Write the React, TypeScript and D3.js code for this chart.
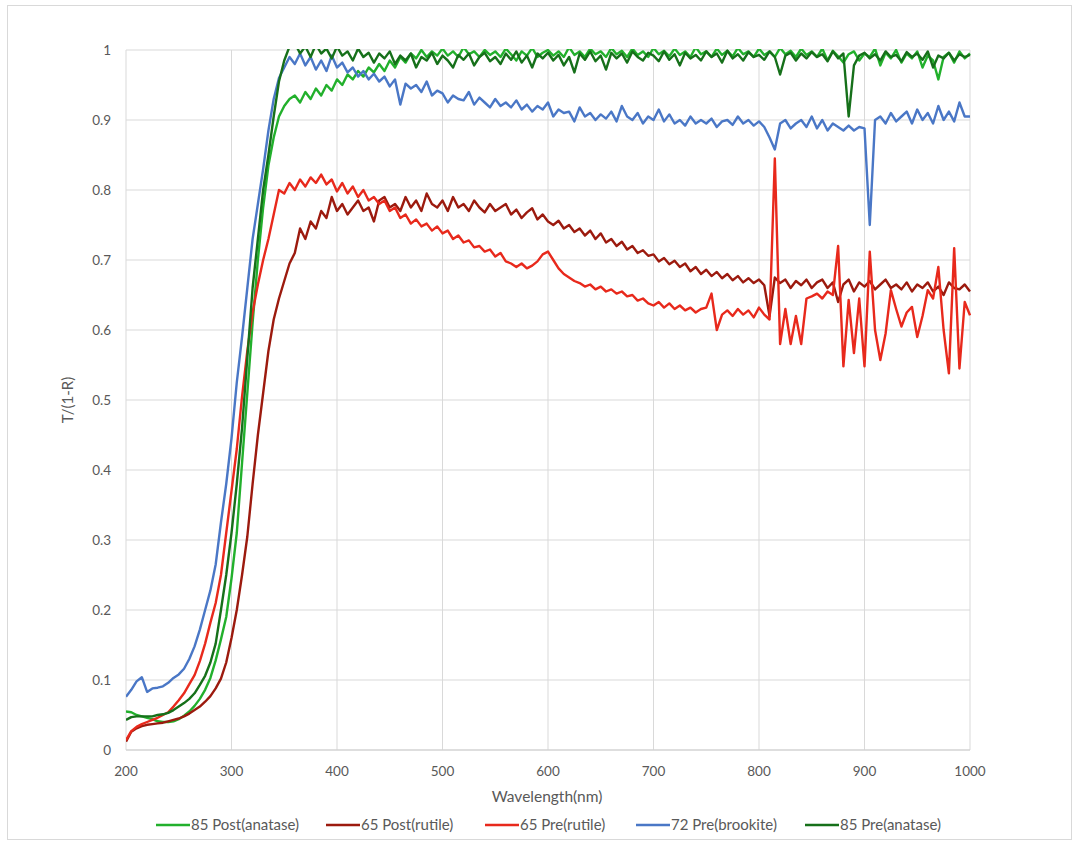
import React from "react";
import * as d3 from "d3";

// Wavelength grid (nm), sampled every 5 nm from 200 to 1000
const wavelengths: number[] = d3.range(200, 1001, 5);

const xTicks = [200, 300, 400, 500, 600, 700, 800, 900, 1000];
const yTicks = [0, 0.1, 0.2, 0.3, 0.4, 0.5, 0.6, 0.7, 0.8, 0.9, 1];

// T/(1-R) per sample, rows of ten (50 nm each)
const post85Anatase: number[] = [
  0.055, 0.054, 0.050, 0.048, 0.046, 0.044, 0.041, 0.040, 0.040, 0.041,
  0.044, 0.049, 0.055, 0.063, 0.073, 0.086, 0.103, 0.128, 0.158, 0.190,
  0.245, 0.310, 0.410, 0.510, 0.610, 0.700, 0.775, 0.835, 0.875, 0.905,
  0.920, 0.930, 0.935, 0.925, 0.940, 0.930, 0.945, 0.935, 0.950, 0.942,
  0.958, 0.950, 0.965, 0.958, 0.970, 0.962, 0.975, 0.968, 0.980, 0.970,
  0.985, 0.975, 0.990, 0.982, 0.995, 0.988, 1.000, 0.990, 0.998, 0.992,
  1.002, 0.992, 0.998, 0.990, 1.004, 0.994, 0.998, 0.990, 1.000, 0.993,
  0.998, 0.990, 1.002, 0.994, 0.985, 0.998, 0.992, 1.003, 0.990, 0.996,
  1.000, 0.992, 0.998, 0.990, 1.004, 0.993, 0.998, 0.990, 1.002, 0.994,
  0.998, 0.990, 1.003, 0.994, 0.999, 0.990, 1.002, 0.993, 0.998, 0.990,
  1.003, 0.994, 0.999, 0.991, 1.002, 0.993, 0.998, 0.990, 1.004, 0.994,
  0.998, 0.990, 1.002, 0.993, 0.999, 0.991, 1.003, 0.994, 0.998, 0.990,
  1.002, 0.993, 0.998, 0.990, 1.003, 0.994, 0.999, 0.990, 1.002, 0.993,
  0.998, 0.990, 1.002, 0.985, 0.999, 0.991, 0.982, 0.994, 0.998, 0.985,
  0.995, 0.990, 1.002, 0.978, 0.996, 0.988, 1.000, 0.982, 0.995, 0.988,
  0.998, 0.975, 0.992, 0.985, 0.958, 0.990, 0.996, 0.982, 0.998, 0.988,
  0.995,
];

const post65Rutile: number[] = [
  0.012, 0.026, 0.031, 0.034, 0.036, 0.037, 0.038, 0.039, 0.041, 0.043,
  0.045, 0.048, 0.052, 0.057, 0.062, 0.069, 0.077, 0.088, 0.102, 0.125,
  0.160, 0.200, 0.250, 0.305, 0.380, 0.450, 0.510, 0.570, 0.615, 0.645,
  0.670, 0.695, 0.710, 0.745, 0.730, 0.755, 0.745, 0.770, 0.760, 0.790,
  0.770, 0.780, 0.765, 0.775, 0.785, 0.770, 0.775, 0.755, 0.785, 0.790,
  0.775, 0.780, 0.770, 0.790, 0.775, 0.785, 0.770, 0.795, 0.780, 0.775,
  0.785, 0.770, 0.790, 0.775, 0.780, 0.770, 0.785, 0.775, 0.768, 0.780,
  0.770, 0.775, 0.780, 0.765, 0.772, 0.760, 0.768, 0.774, 0.758, 0.765,
  0.755, 0.750, 0.756, 0.745, 0.750, 0.740, 0.745, 0.735, 0.742, 0.730,
  0.738, 0.725, 0.730, 0.720, 0.726, 0.715, 0.720, 0.710, 0.714, 0.706,
  0.708, 0.698, 0.703, 0.694, 0.699, 0.690, 0.695, 0.684, 0.690, 0.680,
  0.686, 0.677, 0.683, 0.674, 0.680, 0.671, 0.677, 0.668, 0.674, 0.667,
  0.672, 0.664, 0.620, 0.675, 0.667, 0.672, 0.660, 0.670, 0.664, 0.672,
  0.660, 0.668, 0.672, 0.660, 0.668, 0.640, 0.665, 0.672, 0.655, 0.668,
  0.662, 0.670, 0.658, 0.665, 0.672, 0.660, 0.665, 0.658, 0.668, 0.655,
  0.665, 0.660, 0.668, 0.655, 0.662, 0.650, 0.668, 0.660, 0.658, 0.665,
  0.655,
];

const pre65Rutile: number[] = [
  0.014, 0.027, 0.033, 0.037, 0.040, 0.043, 0.046, 0.050, 0.054, 0.062,
  0.071, 0.081, 0.094, 0.107, 0.127, 0.152, 0.182, 0.210, 0.250, 0.310,
  0.370, 0.430, 0.505, 0.570, 0.625, 0.665, 0.700, 0.730, 0.765, 0.800,
  0.795, 0.810, 0.800, 0.815, 0.805, 0.818, 0.810, 0.822, 0.808, 0.815,
  0.798, 0.810, 0.795, 0.805, 0.790, 0.800, 0.785, 0.790, 0.780, 0.785,
  0.770, 0.775, 0.760, 0.765, 0.752, 0.758, 0.748, 0.752, 0.742, 0.748,
  0.738, 0.742, 0.730, 0.735, 0.725, 0.728, 0.718, 0.720, 0.712, 0.715,
  0.705, 0.710, 0.698, 0.695, 0.690, 0.695, 0.688, 0.692, 0.698, 0.708,
  0.712, 0.700, 0.688, 0.680, 0.675, 0.670, 0.667, 0.662, 0.665, 0.658,
  0.662, 0.655, 0.658, 0.652, 0.655, 0.648, 0.650, 0.642, 0.645, 0.638,
  0.635, 0.640, 0.632, 0.638, 0.630, 0.635, 0.628, 0.632, 0.625, 0.630,
  0.632, 0.652, 0.600, 0.622, 0.628, 0.620, 0.630, 0.622, 0.628, 0.618,
  0.632, 0.622, 0.615, 0.845, 0.580, 0.630, 0.580, 0.620, 0.580, 0.645,
  0.648, 0.652, 0.645, 0.655, 0.650, 0.720, 0.548, 0.643, 0.567, 0.645,
  0.548, 0.712, 0.600, 0.557, 0.595, 0.657, 0.630, 0.605, 0.625, 0.633,
  0.590, 0.620, 0.657, 0.645, 0.690, 0.600, 0.538, 0.717, 0.545, 0.640,
  0.621,
];

const pre72Brookite: number[] = [
  0.076, 0.086, 0.098, 0.104, 0.083, 0.088, 0.089, 0.091, 0.096, 0.103,
  0.108, 0.116, 0.130, 0.148, 0.172, 0.200, 0.228, 0.265, 0.325, 0.380,
  0.445, 0.525, 0.590, 0.660, 0.730, 0.780, 0.830, 0.885, 0.930, 0.960,
  0.975, 0.990, 0.980, 0.995, 0.978, 0.990, 0.972, 0.985, 0.970, 0.992,
  0.975, 0.982, 0.968, 0.975, 0.962, 0.970, 0.958, 0.966, 0.955, 0.962,
  0.948, 0.958, 0.922, 0.952, 0.945, 0.950, 0.940, 0.955, 0.935, 0.942,
  0.938, 0.925, 0.935, 0.930, 0.928, 0.940, 0.922, 0.932, 0.925, 0.918,
  0.930, 0.920, 0.925, 0.918, 0.928, 0.915, 0.922, 0.912, 0.920, 0.915,
  0.925, 0.905, 0.915, 0.910, 0.912, 0.898, 0.918, 0.905, 0.910, 0.900,
  0.908, 0.902, 0.912, 0.898, 0.920, 0.905, 0.900, 0.910, 0.895, 0.905,
  0.900, 0.915, 0.898, 0.908, 0.895, 0.900, 0.892, 0.905, 0.895, 0.900,
  0.895, 0.902, 0.890, 0.898, 0.900, 0.893, 0.905, 0.895, 0.900, 0.892,
  0.898, 0.890, 0.875, 0.858, 0.895, 0.900, 0.888, 0.895, 0.900, 0.890,
  0.905, 0.888, 0.900, 0.885, 0.895, 0.890, 0.885, 0.892, 0.885, 0.890,
  0.888, 0.750, 0.900, 0.905, 0.895, 0.910, 0.898, 0.905, 0.912, 0.895,
  0.915, 0.900, 0.910, 0.895, 0.920, 0.900, 0.912, 0.898, 0.925, 0.905,
  0.905,
];

const pre85Anatase: number[] = [
  0.043, 0.047, 0.048, 0.048, 0.048, 0.048, 0.050, 0.051, 0.053, 0.057,
  0.062, 0.067, 0.073, 0.081, 0.093, 0.106, 0.125, 0.152, 0.200, 0.250,
  0.310, 0.380, 0.460, 0.560, 0.660, 0.730, 0.800, 0.850, 0.905, 0.955,
  0.985, 1.005, 1.010, 0.995, 1.005, 0.990, 1.008, 0.995, 1.002, 0.988,
  1.005, 0.992, 0.998, 0.985, 1.002, 0.990, 0.996, 0.982, 0.995, 0.988,
  0.998, 0.980, 0.992, 0.985, 0.995, 0.975, 0.990, 0.985, 0.996, 0.980,
  0.992, 0.985, 0.975, 0.993, 0.986, 0.995, 0.978, 0.990, 0.996, 0.984,
  0.990, 0.980, 0.995, 0.986, 0.998, 0.982, 0.992, 0.975, 0.995, 0.988,
  0.996, 0.985, 0.993, 0.978, 0.990, 0.968, 0.995, 0.986, 0.998, 0.984,
  0.992, 0.972, 0.996, 0.988, 0.995, 0.982, 0.998, 0.990, 0.985, 0.996,
  0.992, 0.984, 0.998, 0.986, 0.994, 0.978, 0.996, 0.988, 0.993, 0.985,
  0.998, 0.990, 0.995, 0.982, 0.999, 0.988, 0.994, 0.985, 0.997, 0.990,
  0.993, 0.986, 0.998, 0.990, 0.965, 0.992, 0.996, 0.985, 0.995, 0.988,
  0.997, 0.990, 0.994, 0.984, 0.998, 0.988, 0.995, 0.905, 0.978, 0.992,
  0.996, 0.988, 0.994, 0.985, 0.998, 0.990, 0.993, 0.984, 0.997, 0.990,
  0.995, 0.986, 0.998, 0.975, 0.992, 0.988, 0.996, 0.985, 0.994, 0.990,
  0.993,
];

const seriesNames = [
  "85 Post(anatase)",
  "65 Post(rutile)",
  "65 Pre(rutile)",
  "72 Pre(brookite)",
  "85 Pre(anatase)",
];
const seriesValues = [post85Anatase, post65Rutile, pre65Rutile, pre72Brookite, pre85Anatase];
const seriesColors = ["#22b02c", "#9c1a0e", "#e8291c", "#4a77c6", "#16701a"];

// Layout
const W = 1076;
const H = 843;
const plot = { left: 126, right: 970, top: 50, bottom: 750 };
const legendStarts = [156, 326, 485, 636, 805];
const FONT = "Lato, 'Open Sans', sans-serif";
const TEXT = "#595959";
const GRID = "#d9d9d9";

export default function App() {
  const x = d3.scaleLinear().domain([200, 1000]).range([plot.left, plot.right]);
  const y = d3.scaleLinear().domain([0, 1]).range([plot.bottom, plot.top]);

  const line = d3
    .line<[number, number]>()
    .x((d) => x(d[0]))
    .y((d) => y(d[1]));

  return (
    <svg
      width={W}
      height={H}
      style={{ position: "absolute", left: 0, top: 0, display: "block", background: "#fff" }}
      fontFamily={FONT}
    >
      <rect x={7.5} y={5.5} width={1064} height={834} fill="#fff" stroke="#d9d9d9" strokeWidth={1} />
      <defs>
        <clipPath id="plot-clip">
          <rect x={plot.left} y={plot.top - 1} width={plot.right - plot.left + 1} height={plot.bottom - plot.top + 1} />
        </clipPath>
      </defs>

      {/* gridlines */}
      {yTicks.map((t) => (
        <line key={"gy" + t} x1={plot.left} x2={plot.right} y1={y(t)} y2={y(t)} stroke={GRID} strokeWidth={1} />
      ))}
      {xTicks.map((t) => (
        <line key={"gx" + t} x1={x(t)} x2={x(t)} y1={plot.top} y2={plot.bottom} stroke={GRID} strokeWidth={1} />
      ))}
      <line x1={plot.left} x2={plot.right} y1={plot.bottom} y2={plot.bottom} stroke="#cfcfcf" strokeWidth={1.2} />

      {/* tick labels */}
      {yTicks.map((t) => (
        <text key={"ly" + t} x={111} y={y(t)} dy="0.35em" textAnchor="end" fontSize={13.5} fill={TEXT}>
          {d3.format("")(Number(t.toFixed(1)))}
        </text>
      ))}
      {xTicks.map((t) => (
        <text key={"lx" + t} x={x(t)} y={771} dy="0.35em" textAnchor="middle" fontSize={13.5} fill={TEXT}>
          {t}
        </text>
      ))}

      {/* axis titles */}
      <text x={547} y={797} dy="0.35em" textAnchor="middle" fontSize={15.5} fill={TEXT}>
        Wavelength(nm)
      </text>
      <text
        transform={`translate(68,400) rotate(-90)`}
        dy="0.35em"
        textAnchor="middle"
        fontSize={15}
        fill={TEXT}
      >
        T/(1-R)
      </text>

      {/* series */}
      <g clipPath="url(#plot-clip)">
        {seriesValues.map((vals, i) => (
          <path
            key={seriesNames[i]}
            d={line(wavelengths.map((w, k) => [w, vals[k]] as [number, number])) || ""}
            fill="none"
            stroke={seriesColors[i]}
            strokeWidth={2.4}
            strokeLinejoin="round"
          />
        ))}
      </g>

      {/* legend */}
      {seriesNames.map((name, i) => (
        <g key={"lg" + name} transform={`translate(${legendStarts[i]},825)`}>
          <line x1={0} x2={34} y1={0} y2={0} stroke={seriesColors[i]} strokeWidth={2.5} />
          <text x={35} y={0} dy="0.35em" fontSize={15} fill={TEXT}>
            {name}
          </text>
        </g>
      ))}
    </svg>
  );
}
